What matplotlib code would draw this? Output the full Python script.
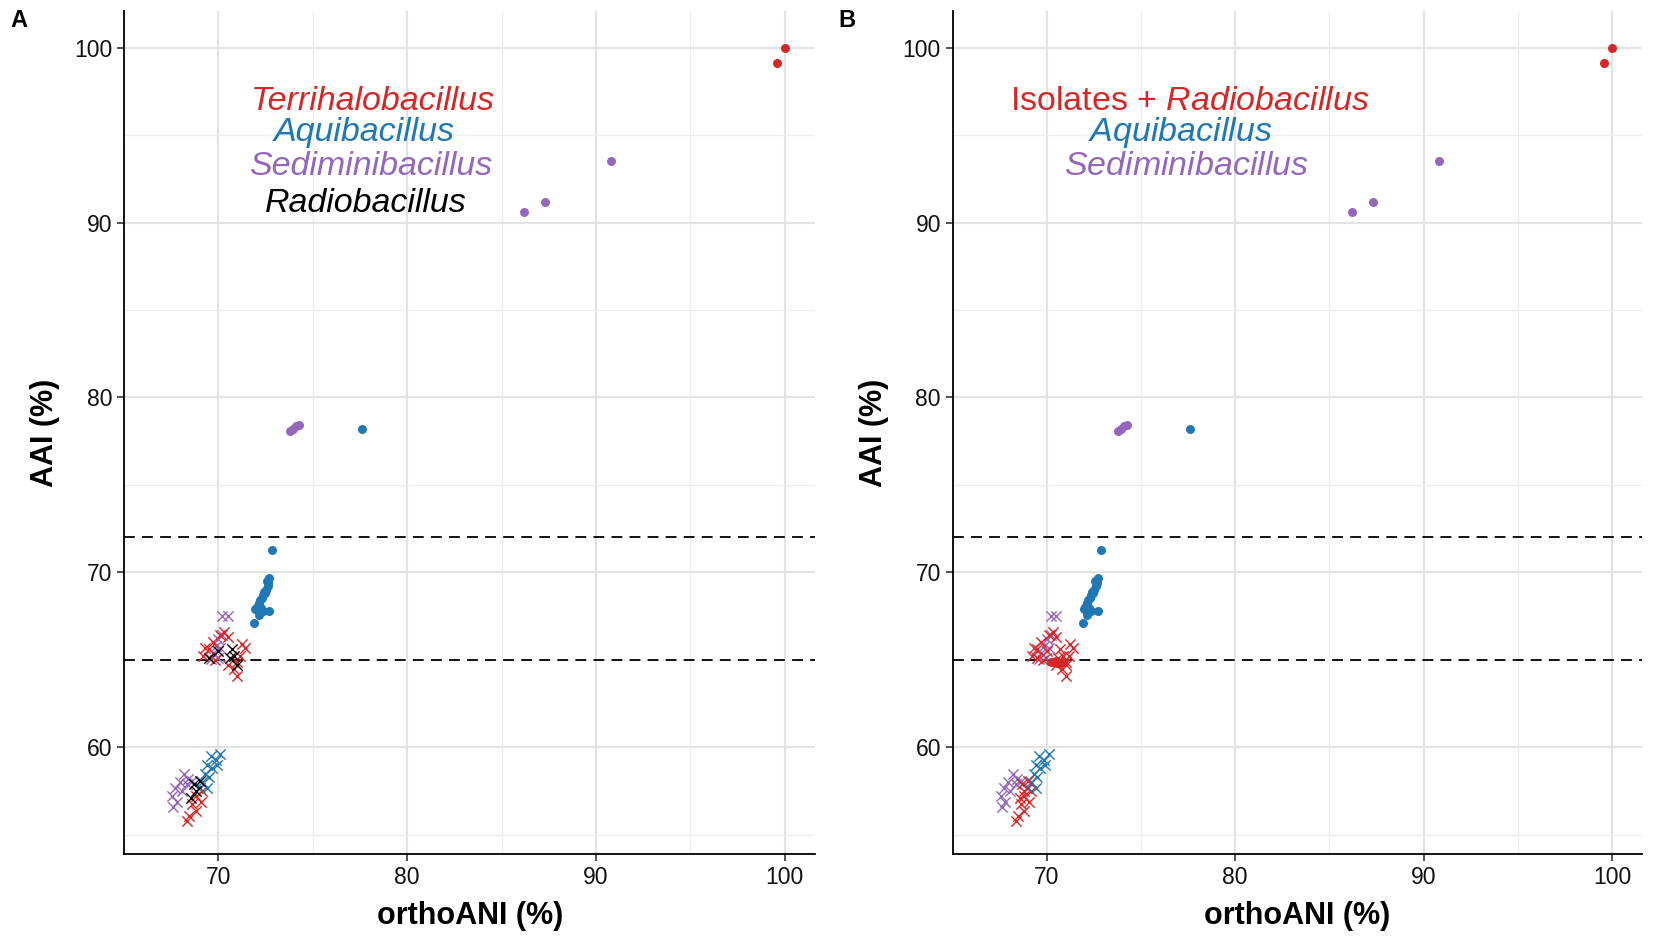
import matplotlib
matplotlib.use("Agg")
import matplotlib.pyplot as plt
import numpy as np

plt.rcParams['font.family'] = ['Liberation Sans', 'DejaVu Sans']
plt.rcParams['mathtext.fontset'] = 'custom'
plt.rcParams['mathtext.it'] = 'Liberation Sans:italic'
plt.rcParams['mathtext.rm'] = 'Liberation Sans'

RED = "#D62728"
BLUE = "#1F77B4"
PURPLE = "#9467BD"
BLACK = "#000000"

# within-genus comparisons (circles)
red_dot_x = [99.6, 100.0]
red_dot_y = [99.1, 100.0]
purple_dot_x = [90.8, 87.3, 86.2, 73.8, 73.95, 74.1, 74.25]
purple_dot_y = [93.5, 91.2, 90.6, 78.1, 78.2, 78.35, 78.4]
blue_dot_x = [77.6, 72.85, 72.7, 72.65, 72.6, 72.5, 72.45, 72.35, 72.3, 72.2, 72.15,
              72.05, 72.25, 71.95, 72.35, 72.7, 72.15, 71.9, 72.4, 72.55]
blue_dot_y = [78.2, 71.3, 69.7, 69.4, 69.2, 69.0, 68.85, 68.7, 68.55, 68.4, 68.25,
              68.05, 67.95, 67.9, 67.8, 67.8, 67.55, 67.1, 68.9, 69.5]
# isolate vs Radiobacillus dots, only in panel B
iso_dot_x = [70.2, 70.4, 70.55, 70.7, 70.85, 70.5]
iso_dot_y = [64.9, 64.85, 64.8, 64.8, 64.85, 64.95]

# between-genus comparisons (crosses)
red_x_x = [70.3, 70.5, 69.7, 69.3, 69.2, 69.8, 71.25, 71.4, 71.0, 70.8, 71.0, 70.5, 71.15, 69.5, 70.1,
           68.95, 68.8, 69.05, 68.6, 68.8, 68.45, 68.35, 69.15]
red_x_y = [66.6, 66.3, 66.0, 65.7, 65.2, 65.0, 65.9, 65.7, 64.9, 64.5, 64.1, 64.7, 65.2, 65.6, 66.4,
           57.7, 57.2, 56.9, 56.75, 56.35, 56.1, 55.8, 57.5]
purple_x_x = [70.2, 70.5, 70.0, 69.85, 69.7, 69.95, 69.6, 70.2, 70.1,
              68.2, 68.4, 67.95, 67.7, 68.05, 67.55, 67.8, 67.6, 68.35, 68.6]
purple_x_y = [67.5, 67.5, 66.2, 65.8, 65.4, 65.1, 65.05, 66.4, 65.7,
              58.5, 58.2, 58.0, 57.7, 57.5, 57.2, 56.9, 56.6, 57.9, 58.1]
blue_x_x = [69.6, 69.85, 69.4, 69.65, 69.3, 69.5, 69.15, 69.4, 69.0, 69.9, 70.1]
blue_x_y = [59.5, 59.3, 59.0, 58.8, 58.5, 58.3, 58.0, 57.7, 57.7, 59.0, 59.6]
black_x_x = [69.5, 70.0, 70.7, 70.85, 71.0, 70.6, 68.7, 68.8, 68.55, 69.0]
black_x_y = [65.1, 65.5, 65.6, 65.2, 64.7, 65.1, 57.9, 57.5, 57.1, 58.1]

thresholds = [72, 65]

labels_a = ["Terrihalobacillus", "Aquibacillus", "Sediminibacillus", "Radiobacillus"]
colors_a = [RED, BLUE, PURPLE, BLACK]
labels_b = [r"Isolates + $\it{Radiobacillus}$", r"$\it{Aquibacillus}$", r"$\it{Sediminibacillus}$"]
colors_b = [RED, BLUE, PURPLE]


def setup_axes(ax):
    ax.set_xlim(65.85, 101.62)
    ax.set_ylim(53.9, 102.1)
    ax.set_xticks([70, 80, 90, 100])
    ax.set_yticks([60, 70, 80, 90, 100])
    ax.set_xticks([65, 75, 85, 95], minor=True)
    ax.set_yticks([55, 65, 75, 85, 95], minor=True)
    ax.grid(which='major', color='#E3E3E3', linewidth=1.5)
    ax.grid(which='minor', color='#EDEDED', linewidth=0.9)
    ax.set_axisbelow(True)
    ax.tick_params(which='minor', length=0)
    ax.tick_params(which='major', labelsize=16.5, length=5, width=1.2, color='#333333',
                   labelcolor='#111111')
    for s in ["top", "right"]:
        ax.spines[s].set_visible(False)
    for s in ["left", "bottom"]:
        ax.spines[s].set_linewidth(1.3)
    for t in thresholds:
        ax.axhline(t, color='black', linestyle=(0, (6, 4)), linewidth=1.3, zorder=1)
    ax.set_xlabel("orthoANI (%)", fontsize=22, fontweight='bold', labelpad=9)
    ax.set_ylabel("AAI (%)", fontsize=22, fontweight='bold', labelpad=10)


def draw_points(ax, panel_b=False):
    dot = dict(s=42, linewidths=0, zorder=3)
    cross = dict(marker='x', s=55, linewidths=1.0, zorder=3)
    ax.scatter(purple_x_x, purple_x_y, color=PURPLE, **cross)
    ax.scatter(red_x_x, red_x_y, color=RED, **cross)
    ax.scatter(blue_x_x, blue_x_y, color=BLUE, **cross)
    if panel_b:
        ax.scatter(black_x_x, black_x_y, color=RED, **cross)
        ax.scatter(iso_dot_x, iso_dot_y, color=RED, **dot)
    else:
        ax.scatter(black_x_x, black_x_y, color=BLACK, **cross)
    ax.scatter(red_dot_x, red_dot_y, color=RED, **dot)
    ax.scatter(purple_dot_x, purple_dot_y, color=PURPLE, **dot)
    ax.scatter(blue_dot_x, blue_dot_y, color=BLUE, **dot)


fig = plt.figure(figsize=(16.54, 9.42), dpi=100)
ax1 = fig.add_axes([0.075, 0.0934, 0.418, 0.895])
ax2 = fig.add_axes([0.576, 0.0934, 0.417, 0.895])

for ax in (ax1, ax2):
    setup_axes(ax)
draw_points(ax1)
draw_points(ax2, panel_b=True)

ys_a = [96.9, 95.15, 93.2, 91.1]
xs_a = [78.2, 77.7, 78.05, 77.8]
for lab, c, x, y in zip(labels_a, colors_a, xs_a, ys_a):
    ax1.text(x, y, lab, color=c, fontsize=24.5, style='italic', ha='center', va='center')

ys_b = [96.9, 95.15, 93.2]
xs_b = [77.6, 77.1, 77.4]
for lab, c, x, y in zip(labels_b, colors_b, xs_b, ys_b):
    ax2.text(x, y, lab, color=c, fontsize=24.5, ha='center', va='center')

fig.text(0.006, 0.978, "A", fontsize=17, fontweight='bold', va='center')
fig.text(0.507, 0.978, "B", fontsize=17, fontweight='bold', va='center')

plt.savefig("out.png", dpi=100)
